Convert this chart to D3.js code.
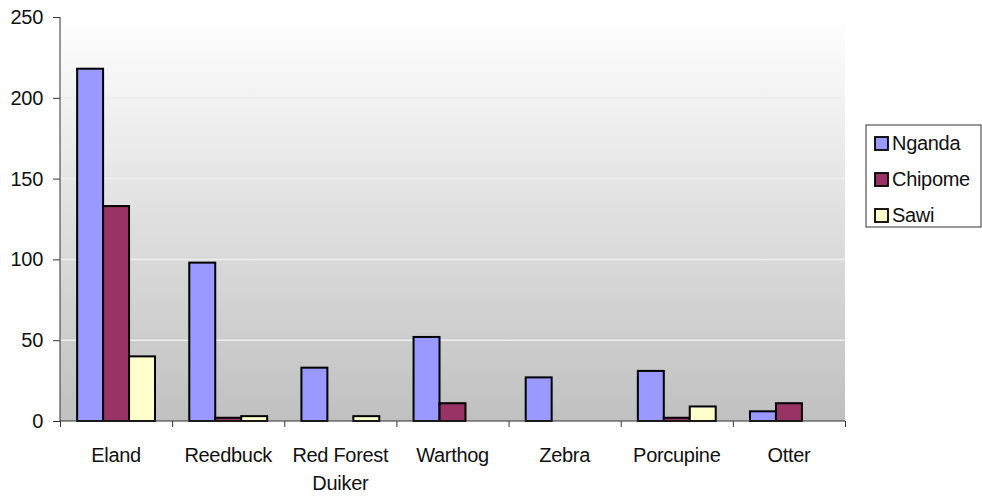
<!DOCTYPE html>
<html>
<head>
<meta charset="utf-8">
<script src="https://cdn.jsdelivr.net/npm/d3@7"></script>
<style>
    body { margin: 0; background: #fff; }
    svg { display: block; font-family: "Liberation Sans", Arial, sans-serif; }
</style>
</head>
<body>
<script>
var categories = [["Eland"], ["Reedbuck"], ["Red Forest", "Duiker"], ["Warthog"], ["Zebra"], ["Porcupine"], ["Otter"]];
var seriesNames = ["Nganda", "Chipome", "Sawi"];
var nganda = [218, 98, 33, 52, 27, 31, 6];
var chipome = [133, 2, 0, 11, 0, 2, 11];
var sawi = [40, 3, 3, 0, 0, 9, 0];
var yTicks = [0, 50, 100, 150, 200, 250];
var colors = ["#9999ff", "#993366", "#ffffcc"];

var width = 982, height = 496;
var margin = {left: 60, top: 17, right: 137, bottom: 75};
var fontSize = 20;

var svg = d3.select("body").append("svg")
    .attr("width", width)
    .attr("height", height);

var plotW = width - margin.left - margin.right;
var plotH = height - margin.top - margin.bottom;

var grad = svg.append("defs").append("linearGradient")
    .attr("id", "bg")
    .attr("x1", 0).attr("y1", 0).attr("x2", 0).attr("y2", 1);
grad.append("stop").attr("offset", "0%").attr("stop-color", "#ffffff");
grad.append("stop").attr("offset", "100%").attr("stop-color", "#c0c0c0");

var g = svg.append("g").attr("transform", `translate(${margin.left},${margin.top})`);

g.append("rect")
    .attr("width", plotW)
    .attr("height", plotH)
    .attr("fill", "url(#bg)");

var x = d3.scaleBand()
    .domain(d3.range(categories.length))
    .range([0, plotW]);

var x1 = d3.scaleBand()
    .domain(d3.range(seriesNames.length))
    .range([0, x.bandwidth()])
    .paddingOuter(0.66);

var y = d3.scaleLinear()
    .domain([0, 250])
    .range([plotH, 0]);

// gridlines
g.selectAll(".grid")
    .data(yTicks.filter(t => t > 0 && t < 250))
    .enter().append("line")
    .attr("x1", 0).attr("x2", plotW)
    .attr("y1", d => y(d)).attr("y2", d => y(d))
    .attr("stroke", "#efefef")
    .attr("stroke-width", 1.5);

var series = [nganda, chipome, sawi];
series.forEach(function (vals, s) {
    var pts = vals.map((v, i) => ({v: v, i: i})).filter(d => d.v > 0);
    g.selectAll(".bar" + s)
        .data(pts)
        .enter()
        .append("rect")
        .attr("x", d => x(d.i) + x1(s))
        .attr("y", d => y(d.v))
        .attr("width", x1.bandwidth())
        .attr("height", d => plotH - y(d.v))
        .attr("fill", colors[s])
        .attr("stroke", "#000")
        .attr("stroke-width", 2);
});

// y axis
var axisY = d3.axisLeft(y).tickValues(yTicks).tickSize(7).tickPadding(10);
var gy = g.append("g").call(axisY);
gy.select(".domain").attr("stroke", "#333").attr("d", `M0,${plotH}V0`);
gy.selectAll(".tick line").attr("stroke", "#333");
gy.selectAll("text").attr("font-size", fontSize).attr("fill", "#111")
    .attr("letter-spacing", -0.3)
    .attr("font-family", "Liberation Sans, Arial, sans-serif");

// x axis
var xt = d3.scaleLinear().domain([0, categories.length]).range([0, plotW]);
var axisX = d3.axisBottom(xt).tickValues(d3.range(categories.length + 1)).tickSize(6).tickFormat("");
var gx = g.append("g").attr("transform", `translate(0,${plotH})`).call(axisX);
gx.select(".domain").attr("stroke", "#333").attr("d", `M0,0H${plotW}`);
gx.selectAll(".tick line").attr("stroke", "#333");

g.selectAll(".xlabel")
    .data(categories)
    .enter().append("text")
    .attr("x", (d, i) => x(i) + x.bandwidth() / 2)
    .attr("y", plotH + 41)
    .attr("text-anchor", "middle")
    .attr("font-size", fontSize)
    .attr("letter-spacing", -0.3)
    .attr("fill", "#111")
    .each(function (d) {
        var t = d3.select(this);
        d.forEach(function (line, k) {
            t.append("tspan")
                .attr("x", t.attr("x"))
                .attr("dy", k === 0 ? 0 : 28)
                .text(line);
        });
    });

// legend
var lg = svg.append("g").attr("transform", "translate(866,125)");
lg.append("rect")
    .attr("width", 115)
    .attr("height", 102)
    .attr("fill", "#fff")
    .attr("stroke", "#333");
var items = lg.selectAll(".item")
    .data(seriesNames)
    .enter().append("g")
    .attr("transform", (d, i) => `translate(9,${18 + i * 36})`);
items.append("rect")
    .attr("x", 0).attr("y", -6)
    .attr("width", 13).attr("height", 13)
    .attr("fill", (d, i) => colors[i])
    .attr("stroke", "#000")
    .attr("stroke-width", 1.8);
items.append("text")
    .attr("x", 17)
    .attr("y", 7)
    .attr("font-size", fontSize)
    .attr("letter-spacing", -0.3)
    .attr("fill", "#111")
    .text(d => d);
</script>
</body>
</html>
